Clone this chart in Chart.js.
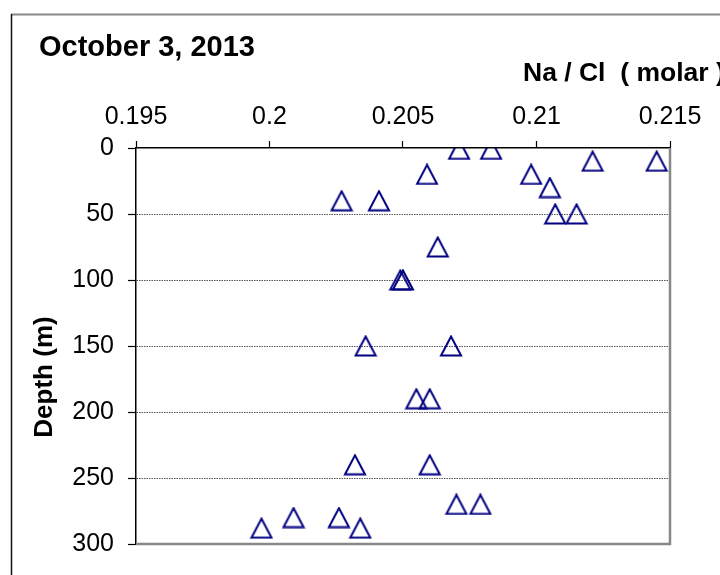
<!DOCTYPE html>
<html>
<head>
<meta charset="utf-8">
<title>Na/Cl vs depth</title>
<script src="https://cdn.jsdelivr.net/npm/chart.js@4.4.0/dist/chart.umd.min.js"></script>
<style>
body{margin:0;background:#fff;}
</style>
</head>
<body>
<canvas id="naclChart" width="720" height="575"></canvas>
<script>
// Na/Cl molar ratio of each sample and the depth (m) it came from
var naCl  = [0.2071, 0.2083, 0.2121, 0.2145, 0.2059, 0.2098, 0.2105, 0.2027, 0.2041, 0.2107, 0.2115, 0.2063, 0.2049,
             0.2050, 0.2036, 0.2068, 0.2055, 0.2060, 0.2032, 0.2060, 0.2070, 0.2079, 0.1997, 0.2009, 0.2026, 0.2034];
var depth = [1, 1, 10, 10, 20, 20, 30, 40, 40, 50, 50, 75, 100,
             100, 150, 150, 190, 190, 240, 240, 270, 270, 288, 280, 280, 288];
var xTicks = [0.195, 0.2, 0.205, 0.21, 0.215];
var yTicks = [0, 50, 100, 150, 200, 250, 300];

var FONT = '"Liberation Sans", Arial, sans-serif';

var points = [];
for (var i = 0; i < naCl.length; i++) {
	points.push({x: naCl[i], y: depth[i]});
}

// open triangle marker, centred on its box like the spreadsheet ones
function triangleMarker() {
	var c = document.createElement('canvas');
	c.width = 24; c.height = 22;
	var g = c.getContext('2d');
	g.strokeStyle = '#000080';
	g.lineWidth = 2;
	g.beginPath();
	g.moveTo(12, 1.5);
	g.lineTo(22, 20.5);
	g.lineTo(2, 20.5);
	g.closePath();
	g.stroke();
	return c;
}

// outer frame, plot box and the free-standing labels
var framePlugin = {
	id: 'frame',
	beforeDraw: function(chart) {
		var ctx = chart.ctx;
		ctx.save();
		ctx.fillStyle = '#fff';
		ctx.fillRect(0, 0, chart.width, chart.height);
		ctx.strokeStyle = '#888';
		ctx.lineWidth = 2;
		ctx.beginPath(); ctx.moveTo(11, 14.5); ctx.lineTo(chart.width, 14.5); ctx.stroke();
		ctx.strokeStyle = '#111';
		ctx.lineWidth = 1.5;
		ctx.beginPath(); ctx.moveTo(11.5, 14); ctx.lineTo(11.5, chart.height); ctx.stroke();
		ctx.restore();
	},
	beforeDatasetsDraw: function(chart) {
		var a = chart.chartArea, ctx = chart.ctx;
		ctx.save();
		ctx.strokeStyle = '#888';
		ctx.lineWidth = 2.5;
		ctx.beginPath();
		ctx.moveTo(a.left, a.bottom);
		ctx.lineTo(a.right, a.bottom);
		ctx.lineTo(a.right, a.top);
		ctx.stroke();

		ctx.fillStyle = '#000';
		ctx.textBaseline = 'alphabetic';
		ctx.textAlign = 'left';
		ctx.font = 'bold 29px ' + FONT;
		ctx.fillText('October 3, 2013', 39, 56);
		ctx.font = 'bold 26.5px ' + FONT;
		ctx.fillText('Na / Cl  ( molar )', 523, 81);

		ctx.translate(52, 377);
		ctx.rotate(-Math.PI / 2);
		ctx.textAlign = 'center';
		ctx.font = 'bold 26px ' + FONT;
		ctx.fillText('Depth (m)', 0, 0);
		ctx.restore();
	}
};

var chart = new Chart(document.getElementById('naclChart').getContext('2d'), {
	type: 'scatter',
	data: {
		datasets: [{
			label: 'Na / Cl',
			data: points,
			pointStyle: triangleMarker(),
			pointRadius: 10,
			showLine: false
		}]
	},
	options: {
		responsive: false,
		animation: false,
		devicePixelRatio: 1,
		layout: {padding: {left: 0, top: 0, right: 50, bottom: 31}},
		plugins: {legend: {display: false}, tooltip: {enabled: false}},
		scales: {
			x: {
				type: 'linear',
				position: 'top',
				min: 0.195,
				max: 0.215,
				afterFit: function(s) { s.height = 148; },
				afterBuildTicks: function(s) { s.ticks = xTicks.map(function(v) { return {value: v}; }); },
				ticks: {
					color: '#000',
					padding: 9,
					font: {family: FONT, size: 25},
					maxRotation: 0,
					callback: function(v) { return String(v); }
				},
				grid: {drawOnChartArea: false, tickLength: 7, tickColor: '#000', tickWidth: 1.2},
				border: {color: '#000', width: 1.5}
			},
			y: {
				type: 'linear',
				reverse: true,
				min: 0,
				max: 300,
				afterFit: function(s) { s.width = 136; },
				afterBuildTicks: function(s) { s.ticks = yTicks.map(function(v) { return {value: v}; }); },
				ticks: {
					color: '#000',
					padding: 14,
					font: {family: FONT, size: 25}
				},
				grid: {
					color: function(c) {
						var v = c.tick ? c.tick.value : null;
						return (v === 0 || v === 300) ? 'rgba(0,0,0,0)' : '#555';
					},
					lineWidth: 1,
					tickLength: 8,
					tickColor: '#000',
					tickWidth: 1.2
				},
				border: {color: '#000', width: 1.5, dash: [1.5, 1]}
			}
		}
	},
	plugins: [framePlugin]
});
</script>
</body>
</html>
